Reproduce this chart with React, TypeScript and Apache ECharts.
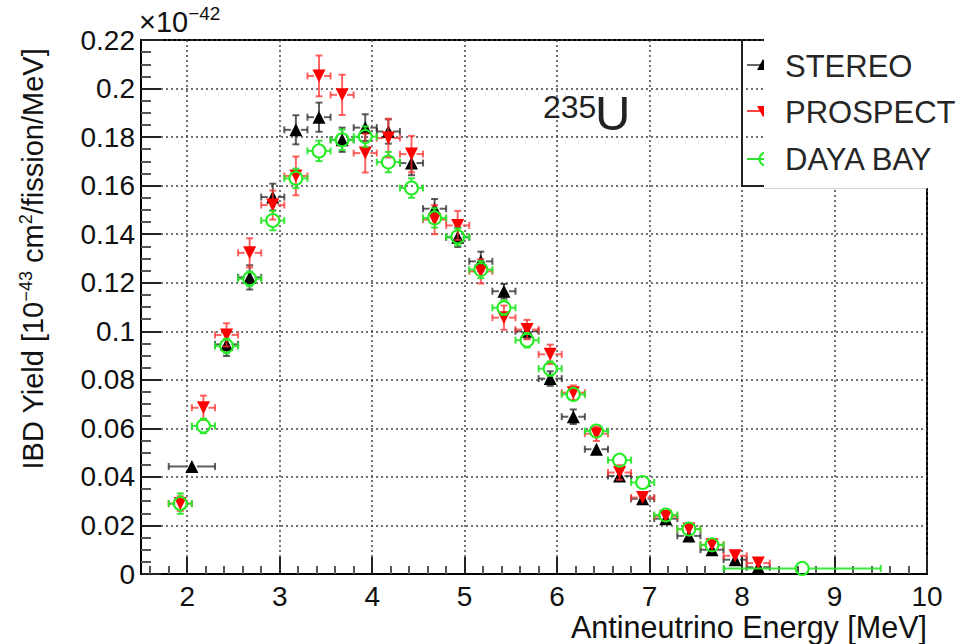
import React, { useEffect, useRef } from "react";
import * as echarts from "echarts";

// ---- data (IBD yield, units of 1e-42 as on the axis) ----
const stereoE = [2.05, 2.425, 2.675, 2.925, 3.175, 3.425, 3.675, 3.925, 4.175, 4.425, 4.675, 4.925, 5.175, 5.425, 5.675, 5.925, 6.175, 6.425, 6.675, 6.925, 7.175, 7.425, 7.675, 7.925, 8.175];
const stereoHalfW = [0.25, 0.125, 0.125, 0.125, 0.125, 0.125, 0.125, 0.125, 0.125, 0.125, 0.125, 0.125, 0.125, 0.125, 0.125, 0.125, 0.125, 0.125, 0.125, 0.125, 0.125, 0.125, 0.125, 0.125, 0.125];
const stereoY = [0.0443, 0.0946, 0.1222, 0.1553, 0.183, 0.1882, 0.1789, 0.1839, 0.1823, 0.1693, 0.1505, 0.1387, 0.1288, 0.1165, 0.1, 0.0805, 0.0648, 0.0514, 0.0404, 0.031, 0.0228, 0.0157, 0.01, 0.0059, 0.0028];
const stereoErr = [0.0015, 0.0048, 0.005, 0.0055, 0.006, 0.006, 0.005, 0.0055, 0.005, 0.005, 0.004, 0.004, 0.004, 0.003, 0.003, 0.003, 0.003, 0.002, 0.002, 0.002, 0.0015, 0.0012, 0.0012, 0.001, 0.001];

const prospectE = [1.925, 2.175, 2.425, 2.675, 2.925, 3.175, 3.425, 3.675, 3.925, 4.175, 4.425, 4.675, 4.925, 5.175, 5.425, 5.675, 5.925, 6.175, 6.425, 6.675, 6.925, 7.175, 7.425, 7.675, 7.925, 8.175];
const prospectHalfW = [0.125, 0.125, 0.125, 0.125, 0.125, 0.125, 0.125, 0.125, 0.125, 0.125, 0.125, 0.125, 0.125, 0.125, 0.125, 0.125, 0.125, 0.125, 0.125, 0.125, 0.125, 0.125, 0.125, 0.125, 0.125, 0.125];
const prospectY = [0.029, 0.0685, 0.0985, 0.1323, 0.152, 0.164, 0.2052, 0.1974, 0.1734, 0.1796, 0.173, 0.146, 0.1436, 0.1247, 0.1056, 0.1007, 0.0905, 0.0747, 0.0578, 0.0418, 0.0315, 0.0238, 0.0185, 0.012, 0.0075, 0.0045];
const prospectErr = [0.003, 0.005, 0.0048, 0.006, 0.006, 0.008, 0.0084, 0.0083, 0.008, 0.008, 0.0075, 0.006, 0.006, 0.005, 0.005, 0.004, 0.004, 0.003, 0.003, 0.003, 0.002, 0.002, 0.002, 0.002, 0.002, 0.0015];

const dayabayE = [1.925, 2.175, 2.425, 2.675, 2.925, 3.175, 3.425, 3.675, 3.925, 4.175, 4.425, 4.675, 4.925, 5.175, 5.425, 5.675, 5.925, 6.175, 6.425, 6.675, 6.925, 7.175, 7.425, 7.675, 8.65];
const dayabayHalfW = [0.125, 0.125, 0.125, 0.125, 0.125, 0.125, 0.125, 0.125, 0.125, 0.125, 0.125, 0.125, 0.125, 0.125, 0.125, 0.125, 0.125, 0.125, 0.125, 0.125, 0.125, 0.125, 0.125, 0.125, 0.85];
const dayabayY = [0.029, 0.061, 0.0939, 0.1216, 0.1456, 0.163, 0.1743, 0.1789, 0.1802, 0.1697, 0.159, 0.1467, 0.1389, 0.1254, 0.1097, 0.0963, 0.0846, 0.074, 0.0589, 0.0469, 0.0377, 0.0243, 0.0185, 0.012, 0.0023];
const dayabayErr = [0.0042, 0.003, 0.003, 0.003, 0.004, 0.004, 0.0042, 0.0042, 0.0042, 0.0042, 0.004, 0.004, 0.0035, 0.0035, 0.003, 0.003, 0.003, 0.002, 0.002, 0.002, 0.0015, 0.0015, 0.001, 0.001, 0.0005];

const xMajorTicks = [2, 3, 4, 5, 6, 7, 8, 9, 10];
const legendNames = ["STEREO", "PROSPECT", "DAYA BAY"];

const FONT = "'Liberation Sans', Arial, Helvetica, sans-serif";

const xMinorTicks: number[] = [];
for (let k = 16; k < 100; k += 2) {
  if (k % 10 !== 0) xMinorTicks.push(k / 10);
}

function errorBars(e: number[], y: number[], err: number[], half: number[], color: string, gap: number, z: number) {
  return {
    type: "custom",
    z,
    silent: true,
    clip: true,
    encode: { x: [0, 2, 3], y: [1, 4, 5] },
    data: e.map((x, i) => [x, y[i], x - half[i], x + half[i], y[i] - err[i], y[i] + err[i]]),
    renderItem: (params: any, api: any) => {
      const c = api.coord([api.value(0), api.value(1)]);
      const l = api.coord([api.value(2), api.value(1)]);
      const r = api.coord([api.value(3), api.value(1)]);
      const lo = api.coord([api.value(0), api.value(4)]);
      const hi = api.coord([api.value(0), api.value(5)]);
      const cap = 3.5;
      const style = { stroke: color, lineWidth: 2 };
      const children: any[] = [];
      const seg = (x1: number, y1: number, x2: number, y2: number) =>
        children.push({ type: "line", shape: { x1, y1, x2, y2 }, style });
      if (c[0] - l[0] > gap) seg(l[0], c[1], c[0] - gap, c[1]);
      if (r[0] - c[0] > gap) seg(c[0] + gap, c[1], r[0], c[1]);
      seg(l[0], c[1] - cap, l[0], c[1] + cap);
      seg(r[0], c[1] - cap, r[0], c[1] + cap);
      if (lo[1] - c[1] > gap) {
        seg(c[0], c[1] + gap, c[0], lo[1]);
        seg(c[0] - cap, lo[1], c[0] + cap, lo[1]);
      }
      if (c[1] - hi[1] > gap) {
        seg(c[0], hi[1], c[0], c[1] - gap);
        seg(c[0] - cap, hi[1], c[0] + cap, hi[1]);
      }
      return { type: "group", children };
    },
  };
}

export default function App() {
  const ref = useRef<HTMLDivElement>(null);
  useEffect(() => {
    if (!ref.current) return;
    const chart = echarts.init(ref.current, null, { renderer: "svg" });
    const axisLabelStyle = { fontSize: 28, color: "#111", fontFamily: FONT };
    const option: any = {
      animation: false,
      backgroundColor: "#fff",
      grid: {
        left: 141,
        top: 40,
        width: 786,
        height: 534,
        show: true,
        borderColor: "#000",
        borderWidth: 2,
        backgroundColor: "transparent",
      },
      xAxis: [
        {
          type: "value",
          min: 1.5,
          max: 10,
          axisLine: { show: true, onZero: false, lineStyle: { color: "#000", width: 2 } },
          axisTick: { show: true, inside: true, length: 17, customValues: xMajorTicks, lineStyle: { color: "#222", width: 2 } },
          axisLabel: { ...axisLabelStyle, margin: 8, customValues: xMajorTicks, formatter: (v: number) => String(v) },
          splitLine: { show: true, lineStyle: { type: [2, 3], color: "#444", width: 1.5 } },
          minorTick: { show: false },
        },
        {
          type: "value",
          min: 1.5,
          max: 10,
          position: "bottom",
          axisLine: { show: false },
          axisTick: { show: true, inside: true, length: 8, customValues: xMinorTicks, lineStyle: { color: "#555", width: 2 } },
          axisLabel: { show: false },
          splitLine: { show: false },
        },
      ],
      yAxis: {
        type: "value",
        min: 0,
        max: 0.22,
        interval: 0.02,
        axisLine: { show: true, onZero: false, lineStyle: { color: "#000", width: 2 } },
        axisTick: { show: true, inside: true, length: 20, lineStyle: { color: "#222", width: 2 } },
        minorTick: { show: true, splitNumber: 4, length: 10, lineStyle: { color: "#555", width: 2 } },
        axisLabel: {
          ...axisLabelStyle,
          margin: 6,
          formatter: (v: number) => String(parseFloat(v.toFixed(2))),
        },
        splitLine: { show: true, lineStyle: { type: [2, 3], color: "#444", width: 1.5 } },
      },
      series: [
        errorBars(stereoE, stereoY, stereoErr, stereoHalfW, "rgba(40,40,40,0.75)", 5, 2),
        {
          type: "scatter",
          name: legendNames[0],
          z: 3,
          symbol: "triangle",
          symbolSize: 13,
          itemStyle: { color: "#000", opacity: 1 },
          data: stereoE.map((x, i) => [x, stereoY[i]]),
        },
        errorBars(prospectE, prospectY, prospectErr, prospectHalfW, "rgba(255,50,50,0.75)", 5, 4),
        {
          type: "scatter",
          name: legendNames[1],
          z: 5,
          symbol: "triangle",
          symbolRotate: 180,
          symbolSize: 13,
          itemStyle: { color: "#ff0000", opacity: 1 },
          data: prospectE.map((x, i) => [x, prospectY[i]]),
        },
        errorBars(dayabayE, dayabayY, dayabayErr, dayabayHalfW, "rgba(40,230,40,0.9)", 6.5, 6),
        {
          type: "scatter",
          name: legendNames[2],
          z: 7,
          symbol: "circle",
          symbolSize: 13,
          itemStyle: { color: "rgba(0,0,0,0)", borderColor: "#22ee22", borderWidth: 2, opacity: 1 },
          data: dayabayE.map((x, i) => [x, dayabayY[i]]),
        },
      ],
      graphic: [
        // original legend box edges
        { type: "line", z: 50, shape: { x1: 742, y1: 40, x2: 742, y2: 186 }, style: { stroke: "#222", lineWidth: 2 } },
        { type: "line", z: 50, shape: { x1: 741, y1: 186, x2: 765, y2: 186 }, style: { stroke: "#222", lineWidth: 2 } },
        // legend line samples
        { type: "line", z: 50, shape: { x1: 747, y1: 65, x2: 764, y2: 65 }, style: { stroke: "#666", lineWidth: 2 } },
        { type: "line", z: 50, shape: { x1: 747, y1: 111, x2: 764, y2: 111 }, style: { stroke: "#ff4444", lineWidth: 2 } },
        { type: "line", z: 50, shape: { x1: 747, y1: 159, x2: 764, y2: 159 }, style: { stroke: "#33dd33", lineWidth: 2 } },
        { type: "polygon", z: 51, shape: { points: [[757, 70], [769, 70], [763, 59]] }, style: { fill: "#000" } },
        { type: "polygon", z: 51, shape: { points: [[757, 106], [769, 106], [763, 117]] }, style: { fill: "#ff0000" } },
        { type: "circle", z: 51, shape: { cx: 766, cy: 159, r: 6.5 }, style: { fill: "none", stroke: "#22ee22", lineWidth: 2 } },
        // white patch with legend labels
        { type: "rect", z: 100, shape: { x: 764, y: 0, width: 197, height: 188 }, style: { fill: "#fff" } },
        { type: "line", z: 101, shape: { x1: 764, y1: 188.5, x2: 927, y2: 188.5 }, style: { stroke: "#d0d0d0", lineWidth: 1 } },
        { type: "text", z: 110, x: 785, y: 66, style: { text: legendNames[0], fontSize: 31, fontFamily: FONT, fill: "#262626", verticalAlign: "middle" } },
        { type: "text", z: 110, x: 785, y: 112, style: { text: legendNames[1], fontSize: 31, fontFamily: FONT, fill: "#262626", verticalAlign: "middle" } },
        { type: "text", z: 110, x: 785, y: 159, style: { text: legendNames[2], fontSize: 31, fontFamily: FONT, fill: "#262626", verticalAlign: "middle" } },
        // 235U label
        { type: "text", z: 110, x: 543, y: 123, style: { text: "235", fontSize: 32, fontFamily: FONT, fill: "#222", verticalAlign: "bottom" } },
        { type: "text", z: 110, x: 595, y: 137, style: { text: "U", fontSize: 49, fontFamily: FONT, fill: "#222", verticalAlign: "bottom" } },
        // exponent of the y axis
        {
          type: "text",
          z: 110,
          x: 139,
          y: 20,
          style: {
            text: "{a|×10}{b|−42}",
            verticalAlign: "middle",
            rich: {
              a: { fontSize: 29, fontFamily: FONT, fill: "#111", lineHeight: 32, verticalAlign: "bottom" },
              b: { fontSize: 19, fontFamily: FONT, fill: "#111", lineHeight: 32, verticalAlign: "top" },
            },
          },
        },
        // axis titles
        {
          type: "text",
          z: 110,
          x: 33,
          y: 259,
          rotation: Math.PI / 2,
          style: {
            text: "{n|IBD Yield [10}{s|−43}{n| cm}{s|2}{n|/fission/MeV]}",
            align: "center",
            verticalAlign: "middle",
            rich: {
              n: { fontSize: 29, fontFamily: FONT, fill: "#111", lineHeight: 32 },
              s: { fontSize: 18, fontFamily: FONT, fill: "#111", verticalAlign: "top", lineHeight: 32 },
            },
          },
        },
        {
          type: "text",
          z: 110,
          x: 927,
          y: 627,
          style: { text: "Antineutrino Energy [MeV]", fontSize: 30.5, fontFamily: FONT, fill: "#111", align: "right", verticalAlign: "middle" },
        },
      ],
    };
    chart.setOption(option);
    return () => chart.dispose();
  }, []);
  return <div ref={ref} style={{ position: "fixed", left: 0, top: 0, width: 961, height: 644 }} />;
}
